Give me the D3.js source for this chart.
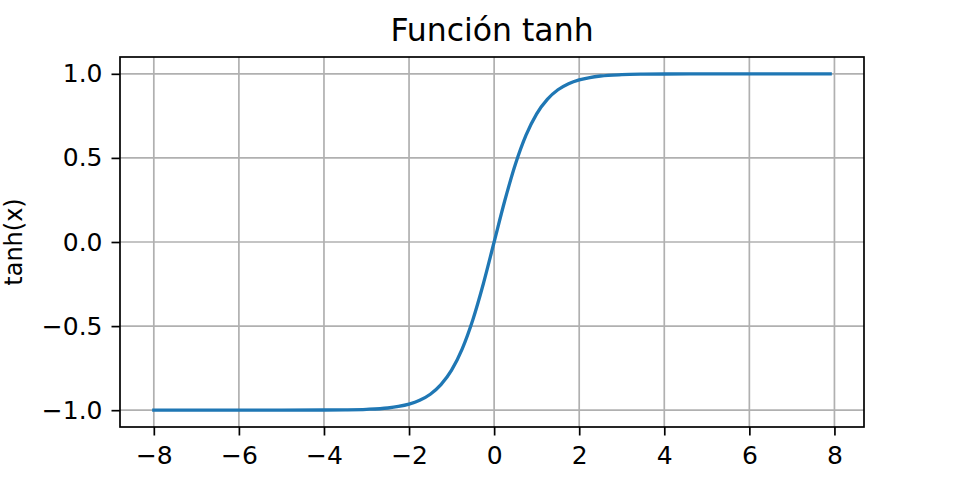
<!DOCTYPE html>
<html>
<head>
<meta charset="utf-8">
<script src="https://cdn.jsdelivr.net/npm/d3@7"></script>
<style>
  body { margin: 0; background: #fff; }
  svg { font-family: "DejaVu Sans", sans-serif; }
</style>
</head>
<body>
<div id="chart"></div>
<script>
// values
const xs = [-8, -7, -6, -5, -4, -3.5, -3, -2.5, -2.25, -2, -1.75, -1.5, -1.25, -1, -0.75, -0.5, -0.25, 0,
  0.25, 0.5, 0.75, 1, 1.25, 1.5, 1.75, 2, 2.25, 2.5, 3, 3.5, 4, 5, 6, 7, 7.9];
const ys = [-1.0, -1.0, -1.0, -1.0, -0.999, -0.998, -0.995, -0.987, -0.978, -0.964, -0.941, -0.905, -0.848, -0.762, -0.635, -0.462, -0.245, 0,
  0.245, 0.462, 0.635, 0.762, 0.848, 0.905, 0.941, 0.964, 0.978, 0.987, 0.995, 0.998, 0.999, 1.0, 1.0, 1.0, 1.0];
const xTicks = [-8, -6, -4, -2, 0, 2, 4, 6, 8];
const yTicks = [-1.0, -0.5, 0.0, 0.5, 1.0];

const width = 960, height = 480;
const margin = { top: 57, right: 96, bottom: 53, left: 120 };
const innerW = width - margin.left - margin.right;
const innerH = height - margin.top - margin.bottom;

const svg = d3.select('#chart').append('svg').attr('width', width).attr('height', height);
const g = svg.append('g').attr('transform', `translate(${margin.left}, ${margin.top})`);

const xScale = d3.scaleLinear().domain([-8.795, 8.695]).range([0, innerW]);
const yScale = d3.scaleLinear().domain([-1.1, 1.1]).range([innerH, 0]);

const fmtMinus = s => s.replace('-', '\u2212');

// grid
g.append('g').selectAll('line').data(xTicks).join('line')
  .attr('x1', d => xScale(d)).attr('x2', d => xScale(d))
  .attr('y1', 0).attr('y2', innerH)
  .attr('stroke', '#b0b0b0').attr('stroke-width', 1.7);
g.append('g').selectAll('line').data(yTicks).join('line')
  .attr('x1', 0).attr('x2', innerW)
  .attr('y1', d => yScale(d)).attr('y2', d => yScale(d))
  .attr('stroke', '#b0b0b0').attr('stroke-width', 1.7);

// curve
const pts = xs.map((x, i) => [x, ys[i]]);
g.append('path')
  .datum(pts)
  .attr('fill', 'none')
  .attr('stroke', '#1f77b4')
  .attr('stroke-width', 3.3)
  .attr('stroke-linecap', 'square')
  .attr('d', d3.line().x(d => xScale(d[0])).y(d => yScale(d[1])).curve(d3.curveMonotoneX));

// axes
const xAxis = d3.axisBottom(xScale).tickValues(xTicks).tickSize(8.5).tickPadding(9)
  .tickFormat(d => fmtMinus(d3.format('d')(d)));
const yAxis = d3.axisLeft(yScale).tickValues(yTicks).tickSize(8.5).tickPadding(9)
  .tickFormat(d => fmtMinus(d3.format('.1f')(d)));

const xG = g.append('g').attr('transform', `translate(0, ${innerH})`).call(xAxis);
const yG = g.append('g').call(yAxis);
[xG, yG].forEach(a => {
  a.attr('font-size', null).attr('font-family', null);
  a.select('.domain').remove();
  a.selectAll('.tick line').attr('stroke', '#000').attr('stroke-width', 1.7);
  a.selectAll('.tick text').attr('font-size', 25).attr('fill', '#000');
});
xG.selectAll('.tick text').attr('dy', '0.78em');

// frame
g.append('rect').attr('width', innerW).attr('height', innerH)
  .attr('fill', 'none').attr('stroke', '#000').attr('stroke-width', 1.7);

// title and label
svg.append('text')
  .attr('x', margin.left + innerW / 2).attr('y', 41)
  .attr('text-anchor', 'middle').attr('font-size', 31.5)
  .text('Función tanh');

svg.append('text')
  .attr('transform', `translate(22, ${margin.top + innerH / 2}) rotate(-90)`)
  .attr('text-anchor', 'middle').attr('font-size', 24)
  .text('tanh(x)');
</script>
</body>
</html>
